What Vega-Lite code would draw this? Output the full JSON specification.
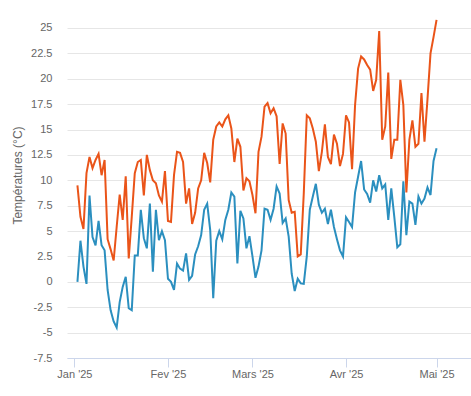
{
  "$schema": "https://vega.github.io/schema/vega-lite/v6.json",
  "width": 404,
  "height": 348,
  "autosize": {"type": "none"},
  "padding": {"left": 67, "top": 10, "right": 0, "bottom": 38},
  "background": "white",
  "config": {"view": {"stroke": null}, "font": "Liberation Sans"},
  "data": {
    "format": {"parse": {"d": "utc:'%Y-%m-%d'"}},
    "values": [
      {"d": "2025-01-02", "max": 9.5, "min": 0.0},
      {"d": "2025-01-03", "max": 6.4, "min": 4.05},
      {"d": "2025-01-04", "max": 5.2, "min": 1.5},
      {"d": "2025-01-05", "max": 10.7, "min": -0.2},
      {"d": "2025-01-06", "max": 12.3, "min": 8.5},
      {"d": "2025-01-07", "max": 11.2, "min": 4.4},
      {"d": "2025-01-08", "max": 12.0, "min": 3.6},
      {"d": "2025-01-09", "max": 12.6, "min": 6.0},
      {"d": "2025-01-10", "max": 10.5, "min": 3.6},
      {"d": "2025-01-11", "max": 12.0, "min": 3.1},
      {"d": "2025-01-12", "max": 4.2, "min": -0.8},
      {"d": "2025-01-13", "max": 3.2, "min": -2.8},
      {"d": "2025-01-14", "max": 2.1, "min": -3.9},
      {"d": "2025-01-15", "max": 5.4, "min": -4.5},
      {"d": "2025-01-16", "max": 8.6, "min": -2.0},
      {"d": "2025-01-17", "max": 6.1, "min": -0.5},
      {"d": "2025-01-18", "max": 10.4, "min": 0.5},
      {"d": "2025-01-19", "max": 2.3, "min": -2.6},
      {"d": "2025-01-20", "max": 6.4, "min": -2.8},
      {"d": "2025-01-21", "max": 10.7, "min": 2.6},
      {"d": "2025-01-22", "max": 11.8, "min": 2.6},
      {"d": "2025-01-23", "max": 12.0, "min": 7.1},
      {"d": "2025-01-24", "max": 8.5, "min": 4.3},
      {"d": "2025-01-25", "max": 12.5, "min": 3.3},
      {"d": "2025-01-26", "max": 11.0, "min": 7.7},
      {"d": "2025-01-27", "max": 10.0, "min": 1.0},
      {"d": "2025-01-28", "max": 9.7, "min": 7.1},
      {"d": "2025-01-29", "max": 8.5, "min": 4.1},
      {"d": "2025-01-30", "max": 7.9, "min": 5.0},
      {"d": "2025-01-31", "max": 10.9, "min": 4.1},
      {"d": "2025-02-01", "max": 6.0, "min": 0.3},
      {"d": "2025-02-02", "max": 5.9, "min": 0.0},
      {"d": "2025-02-03", "max": 10.5, "min": -0.8},
      {"d": "2025-02-04", "max": 12.8, "min": 1.8},
      {"d": "2025-02-05", "max": 12.7, "min": 1.3},
      {"d": "2025-02-06", "max": 11.8, "min": 1.1},
      {"d": "2025-02-07", "max": 7.7, "min": 2.8},
      {"d": "2025-02-08", "max": 9.2, "min": 0.2},
      {"d": "2025-02-09", "max": 5.7, "min": 0.6},
      {"d": "2025-02-10", "max": 6.8, "min": 2.7},
      {"d": "2025-02-11", "max": 9.2, "min": 3.5},
      {"d": "2025-02-12", "max": 10.0, "min": 4.6},
      {"d": "2025-02-13", "max": 12.7, "min": 7.1},
      {"d": "2025-02-14", "max": 11.7, "min": 7.7},
      {"d": "2025-02-15", "max": 9.8, "min": 5.1},
      {"d": "2025-02-16", "max": 14.0, "min": -1.6},
      {"d": "2025-02-17", "max": 15.3, "min": 4.05},
      {"d": "2025-02-18", "max": 15.7, "min": 5.0},
      {"d": "2025-02-19", "max": 15.3, "min": 4.2},
      {"d": "2025-02-20", "max": 16.0, "min": 6.1},
      {"d": "2025-02-21", "max": 16.4, "min": 7.1},
      {"d": "2025-02-22", "max": 15.1, "min": 8.8},
      {"d": "2025-02-23", "max": 11.8, "min": 8.4},
      {"d": "2025-02-24", "max": 14.1, "min": 1.8},
      {"d": "2025-02-25", "max": 13.3, "min": 7.0},
      {"d": "2025-02-26", "max": 9.0, "min": 6.25},
      {"d": "2025-02-27", "max": 10.2, "min": 3.3},
      {"d": "2025-02-28", "max": 9.9, "min": 4.5},
      {"d": "2025-03-01", "max": 8.55, "min": 2.5},
      {"d": "2025-03-02", "max": 6.75, "min": 0.4},
      {"d": "2025-03-03", "max": 12.8, "min": 1.5},
      {"d": "2025-03-04", "max": 14.3, "min": 3.1},
      {"d": "2025-03-05", "max": 17.25, "min": 7.2},
      {"d": "2025-03-06", "max": 17.6, "min": 7.1},
      {"d": "2025-03-07", "max": 16.6, "min": 6.1},
      {"d": "2025-03-08", "max": 17.1, "min": 7.2},
      {"d": "2025-03-09", "max": 16.3, "min": 9.4},
      {"d": "2025-03-10", "max": 11.6, "min": 8.7},
      {"d": "2025-03-11", "max": 15.6, "min": 5.8},
      {"d": "2025-03-12", "max": 14.6, "min": 6.25},
      {"d": "2025-03-13", "max": 8.05, "min": 4.45},
      {"d": "2025-03-14", "max": 6.8, "min": 0.8},
      {"d": "2025-03-15", "max": 6.9, "min": -0.9},
      {"d": "2025-03-16", "max": 2.5, "min": 0.3},
      {"d": "2025-03-17", "max": 2.7, "min": -0.15},
      {"d": "2025-03-18", "max": 8.7, "min": -0.2},
      {"d": "2025-03-19", "max": 16.4, "min": 2.5},
      {"d": "2025-03-20", "max": 16.1, "min": 7.1},
      {"d": "2025-03-21", "max": 15.1, "min": 8.4},
      {"d": "2025-03-22", "max": 13.8, "min": 9.65},
      {"d": "2025-03-23", "max": 10.9, "min": 7.6},
      {"d": "2025-03-24", "max": 12.8, "min": 6.8},
      {"d": "2025-03-25", "max": 15.5, "min": 7.2},
      {"d": "2025-03-26", "max": 12.3, "min": 5.7},
      {"d": "2025-03-27", "max": 11.6, "min": 7.1},
      {"d": "2025-03-28", "max": 14.5, "min": 5.4},
      {"d": "2025-03-29", "max": 13.6, "min": 4.2},
      {"d": "2025-03-30", "max": 11.4, "min": 3.1},
      {"d": "2025-03-31", "max": 12.6, "min": 2.5},
      {"d": "2025-04-01", "max": 16.4, "min": 6.35},
      {"d": "2025-04-02", "max": 15.7, "min": 5.9},
      {"d": "2025-04-03", "max": 11.1, "min": 5.4},
      {"d": "2025-04-04", "max": 17.4, "min": 8.8},
      {"d": "2025-04-05", "max": 21.0, "min": 10.35},
      {"d": "2025-04-06", "max": 22.2, "min": 11.9},
      {"d": "2025-04-07", "max": 21.9, "min": 9.1},
      {"d": "2025-04-08", "max": 21.35, "min": 8.65},
      {"d": "2025-04-09", "max": 20.9, "min": 7.8},
      {"d": "2025-04-10", "max": 18.8, "min": 10.0},
      {"d": "2025-04-11", "max": 19.9, "min": 8.9},
      {"d": "2025-04-12", "max": 24.7, "min": 10.5},
      {"d": "2025-04-13", "max": 14.0, "min": 9.2},
      {"d": "2025-04-14", "max": 15.3, "min": 9.6},
      {"d": "2025-04-15", "max": 20.6, "min": 6.1},
      {"d": "2025-04-16", "max": 12.1, "min": 9.2},
      {"d": "2025-04-17", "max": 14.0, "min": 6.4},
      {"d": "2025-04-18", "max": 14.0, "min": 3.4},
      {"d": "2025-04-19", "max": 19.9, "min": 3.7},
      {"d": "2025-04-20", "max": 17.4, "min": 9.9},
      {"d": "2025-04-21", "max": 8.8, "min": 4.6},
      {"d": "2025-04-22", "max": 14.0, "min": 7.9},
      {"d": "2025-04-23", "max": 15.9, "min": 7.7},
      {"d": "2025-04-24", "max": 13.3, "min": 5.6},
      {"d": "2025-04-25", "max": 13.6, "min": 8.4},
      {"d": "2025-04-26", "max": 18.6, "min": 7.7},
      {"d": "2025-04-27", "max": 13.8, "min": 8.2},
      {"d": "2025-04-28", "max": 18.0, "min": 9.3},
      {"d": "2025-04-29", "max": 22.5, "min": 8.55},
      {"d": "2025-04-30", "max": 24.1, "min": 11.9},
      {"d": "2025-05-01", "max": 25.8, "min": 13.15}
    ]
  },
  "transform": [{"fold": ["max", "min"], "as": ["series", "temp"]}],
  "mark": {"type": "line", "strokeWidth": 2, "clip": true},
  "encoding": {
    "x": {
      "field": "d",
      "type": "temporal",
      "scale": {
        "type": "utc",
        "domain": [
          {"year": 2024, "month": 12, "date": 29, "hours": 13, "utc": true},
          {"year": 2025, "month": 5, "date": 12, "hours": 10, "utc": true}
        ]
      },
      "axis": {
        "title": null,
        "grid": false,
        "values": [
          {"year": 2025, "month": 1, "date": 1, "utc": true},
          {"year": 2025, "month": 2, "date": 1, "utc": true},
          {"year": 2025, "month": 3, "date": 1, "utc": true},
          {"year": 2025, "month": 4, "date": 1, "utc": true},
          {"year": 2025, "month": 5, "date": 1, "utc": true}
        ],
        "labelExpr": "['Jan','Fev','Mars','Avr','Mai','Juin'][utcmonth(datum.value)] + \" '25\"",
        "domainColor": "#ccd6eb",
        "tickColor": "#ccd6eb",
        "tickSize": 9,
        "labelPadding": 1,
        "labelColor": "#666666",
        "labelFontSize": 11,
        "labelFont": "Liberation Sans"
      }
    },
    "y": {
      "field": "temp",
      "type": "quantitative",
      "scale": {"domain": [-7.5, 26.77], "nice": false, "zero": false},
      "axis": {
        "values": [-7.5, -5, -2.5, 0, 2.5, 5, 7.5, 10, 12.5, 15, 17.5, 20, 22.5, 25],
        "labelExpr": "datum.value + ''",
        "grid": true,
        "gridColor": "#e6e6e6",
        "domain": false,
        "ticks": false,
        "labelPadding": 15,
        "labelColor": "#666666",
        "labelFontSize": 11,
        "labelFont": "Liberation Sans",
        "title": "Températures (°C)",
        "titleColor": "#666666",
        "titleFontSize": 12,
        "titleFontWeight": "normal",
        "titleFont": "Liberation Sans",
        "titleX": -50,
        "titleY": 165,
        "titleAngle": -90,
        "titleAlign": "center",
        "titleBaseline": "middle"
      }
    },
    "color": {
      "field": "series",
      "type": "nominal",
      "scale": {"domain": ["max", "min"], "range": ["#ea5419", "#2b8fbf"]},
      "legend": null
    }
  }
}
